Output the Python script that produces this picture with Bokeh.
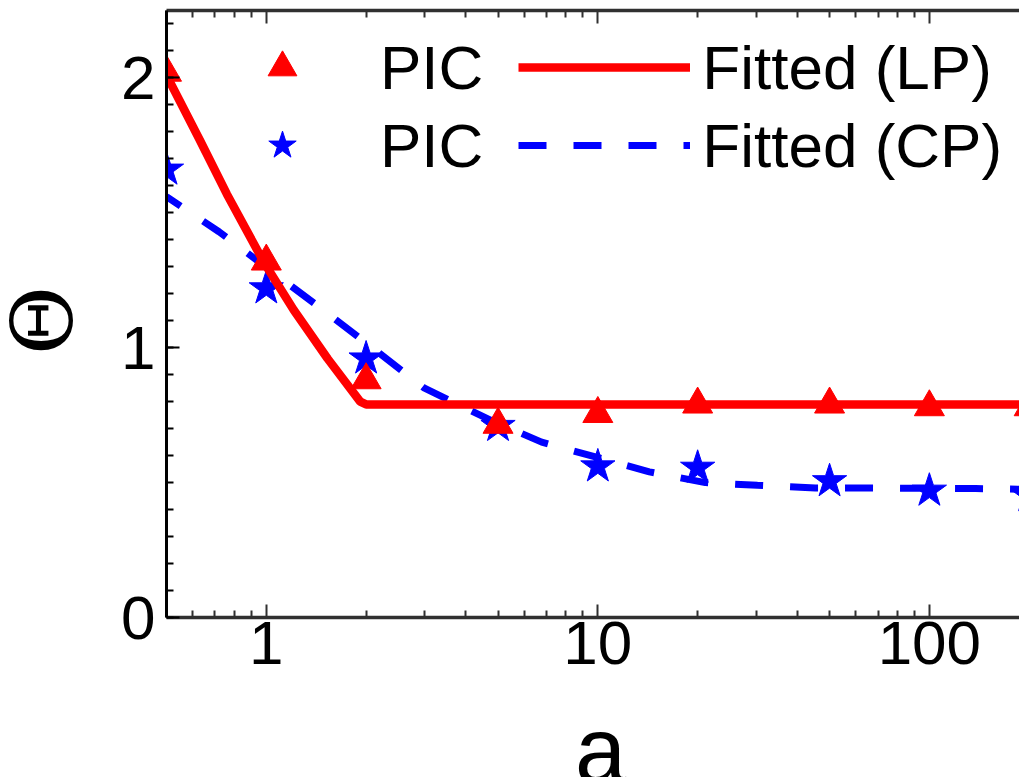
import math
from bokeh.plotting import figure
from bokeh.models import (Range1d, LogAxis, FixedTicker, Legend, LegendItem,
                          Label, BasicTickFormatter)
from bokeh.embed import file_html
from bokeh.resources import INLINE

# PIC samples
a_pic = [0.5, 1, 2, 5, 10, 20, 50, 100, 200]
theta_pic_lp = [2.02, 1.32, 0.88, 0.715, 0.755, 0.79, 0.79, 0.78, 0.78]
theta_pic_cp = [1.66, 1.22, 0.96, 0.71, 0.56, 0.555, 0.505, 0.47, 0.45]

# fitted curves
a_fit_lp = [0.5, 0.63, 0.76, 0.98, 1.21, 1.53, 1.92, 2.0, 200]
theta_fit_lp = [2.01, 1.77, 1.57, 1.32, 1.14, 0.96, 0.80, 0.79, 0.79]

a_fit_cp = [0.5, 0.72, 1.52, 2.14, 3.0, 4.78, 6.77, 14.3, 21.1, 30.3, 45.3, 64.6, 138, 200]
theta_fit_cp = [1.56, 1.43, 1.13, 0.99, 0.85, 0.73, 0.65, 0.54, 0.50, 0.49, 0.48, 0.48, 0.478, 0.475]

x_major = [1, 10, 100]
x_minor = [m * 10.0 ** e for e in (-1, 0, 1, 2) for m in range(2, 10)]
y_major = [0, 1, 2]
y_minor = [i / 10 for i in range(23)]

RED = "#ff0000"
BLUE = "#0000ff"
FONT = "Liberation Sans"

p = figure(width=1019, height=777, x_axis_type="log",
           x_range=Range1d(0.5, 187), y_range=Range1d(0, 2.25),
           output_backend="svg", toolbar_location=None,
           min_border_left=166, min_border_right=0,
           min_border_top=10, min_border_bottom=160)
p.outline_line_color = None
p.grid.visible = False

# curves and markers (blue below red)
p.line(a_fit_cp, theta_fit_cp, line_color=BLUE, line_width=7,
       line_dash="28 27", line_dash_offset=11)
p.scatter(a_pic, theta_pic_cp, marker="star", size=36,
          fill_color=BLUE, line_color=BLUE)
p.line(a_fit_lp, theta_fit_lp, line_color=RED, line_width=8.5)
p.scatter(a_pic, theta_pic_lp, marker="triangle", size=30,
          fill_color=RED, line_color=RED)

# legend glyphs (one row per polarization)
nan = [float("nan")]
g_tri = p.scatter(nan, nan, marker="triangle", size=36, fill_color=RED, line_color=RED)
g_lp = p.line(nan, nan, line_color=RED, line_width=8.5)
g_star = p.scatter(nan, nan, marker="star", size=35, fill_color=BLUE, line_color=BLUE)
g_cp = p.line(nan, nan, line_color=BLUE, line_width=7, line_dash="28 27")


def legend_row(items, y):
    return Legend(items=items, location=(30, y), orientation="horizontal",
                  glyph_width=172, glyph_height=72, label_height=72,
                  label_standoff=12, spacing=35, padding=0, margin=0,
                  label_text_font=FONT, label_text_font_size="62px",
                  label_text_color="black",
                  background_fill_alpha=0, border_line_alpha=0)


p.add_layout(legend_row([LegendItem(label="PIC", renderers=[g_tri]),
                         LegendItem(label="Fitted (LP)", renderers=[g_lp])], 514))
p.add_layout(legend_row([LegendItem(label="PIC", renderers=[g_star]),
                         LegendItem(label="Fitted (CP)", renderers=[g_cp])], 436))

# axes
xa = p.xaxis[0]
xa.ticker = FixedTicker(ticks=x_major, minor_ticks=x_minor)
xa.formatter = BasicTickFormatter()
ya = p.yaxis[0]
ya.ticker = FixedTicker(ticks=y_major, minor_ticks=y_minor)

top = LogAxis(ticker=FixedTicker(ticks=x_major, minor_ticks=x_minor),
              major_label_overrides={1: "", 10: "", 100: ""},
              major_label_text_font_size="1px", major_label_standoff=0)
p.add_layout(top, "above")

for ax, col, w in ((xa, "#303030", 3.5), (ya, "black", 3), (top, "#303030", 3.5)):
    ax.axis_line_color = col
    ax.axis_line_width = w
    ax.major_tick_line_color = col
    ax.minor_tick_line_color = col
    ax.major_tick_line_width = 2
    ax.minor_tick_line_width = 2
    ax.major_tick_in = 13
    ax.major_tick_out = 0
    ax.minor_tick_in = 7
    ax.minor_tick_out = 0

for ax in (xa, ya):
    ax.major_label_text_font = FONT
    ax.major_label_text_font_size = "62px"
    ax.major_label_text_color = "black"
xa.major_label_standoff = 4
ya.major_label_standoff = 11

# axis titles, placed in the side panels so they are not clipped by the frame
theta_label = Label(x=-124, y=415, x_units="screen", y_units="screen", text="Θ",
                    angle=math.pi / 2, text_font="DejaVu Serif",
                    text_font_size="84px", text_align="center",
                    text_baseline="middle", text_color="black")
p.add_layout(theta_label, "below")
a_label = Label(x=533, y=-132, x_units="screen", y_units="screen", text="a",
                text_font=FONT, text_font_size="92px", text_align="center",
                text_baseline="alphabetic", text_color="black")
p.add_layout(a_label, "left")

open("out.html", "w").write(file_html(p, INLINE))
